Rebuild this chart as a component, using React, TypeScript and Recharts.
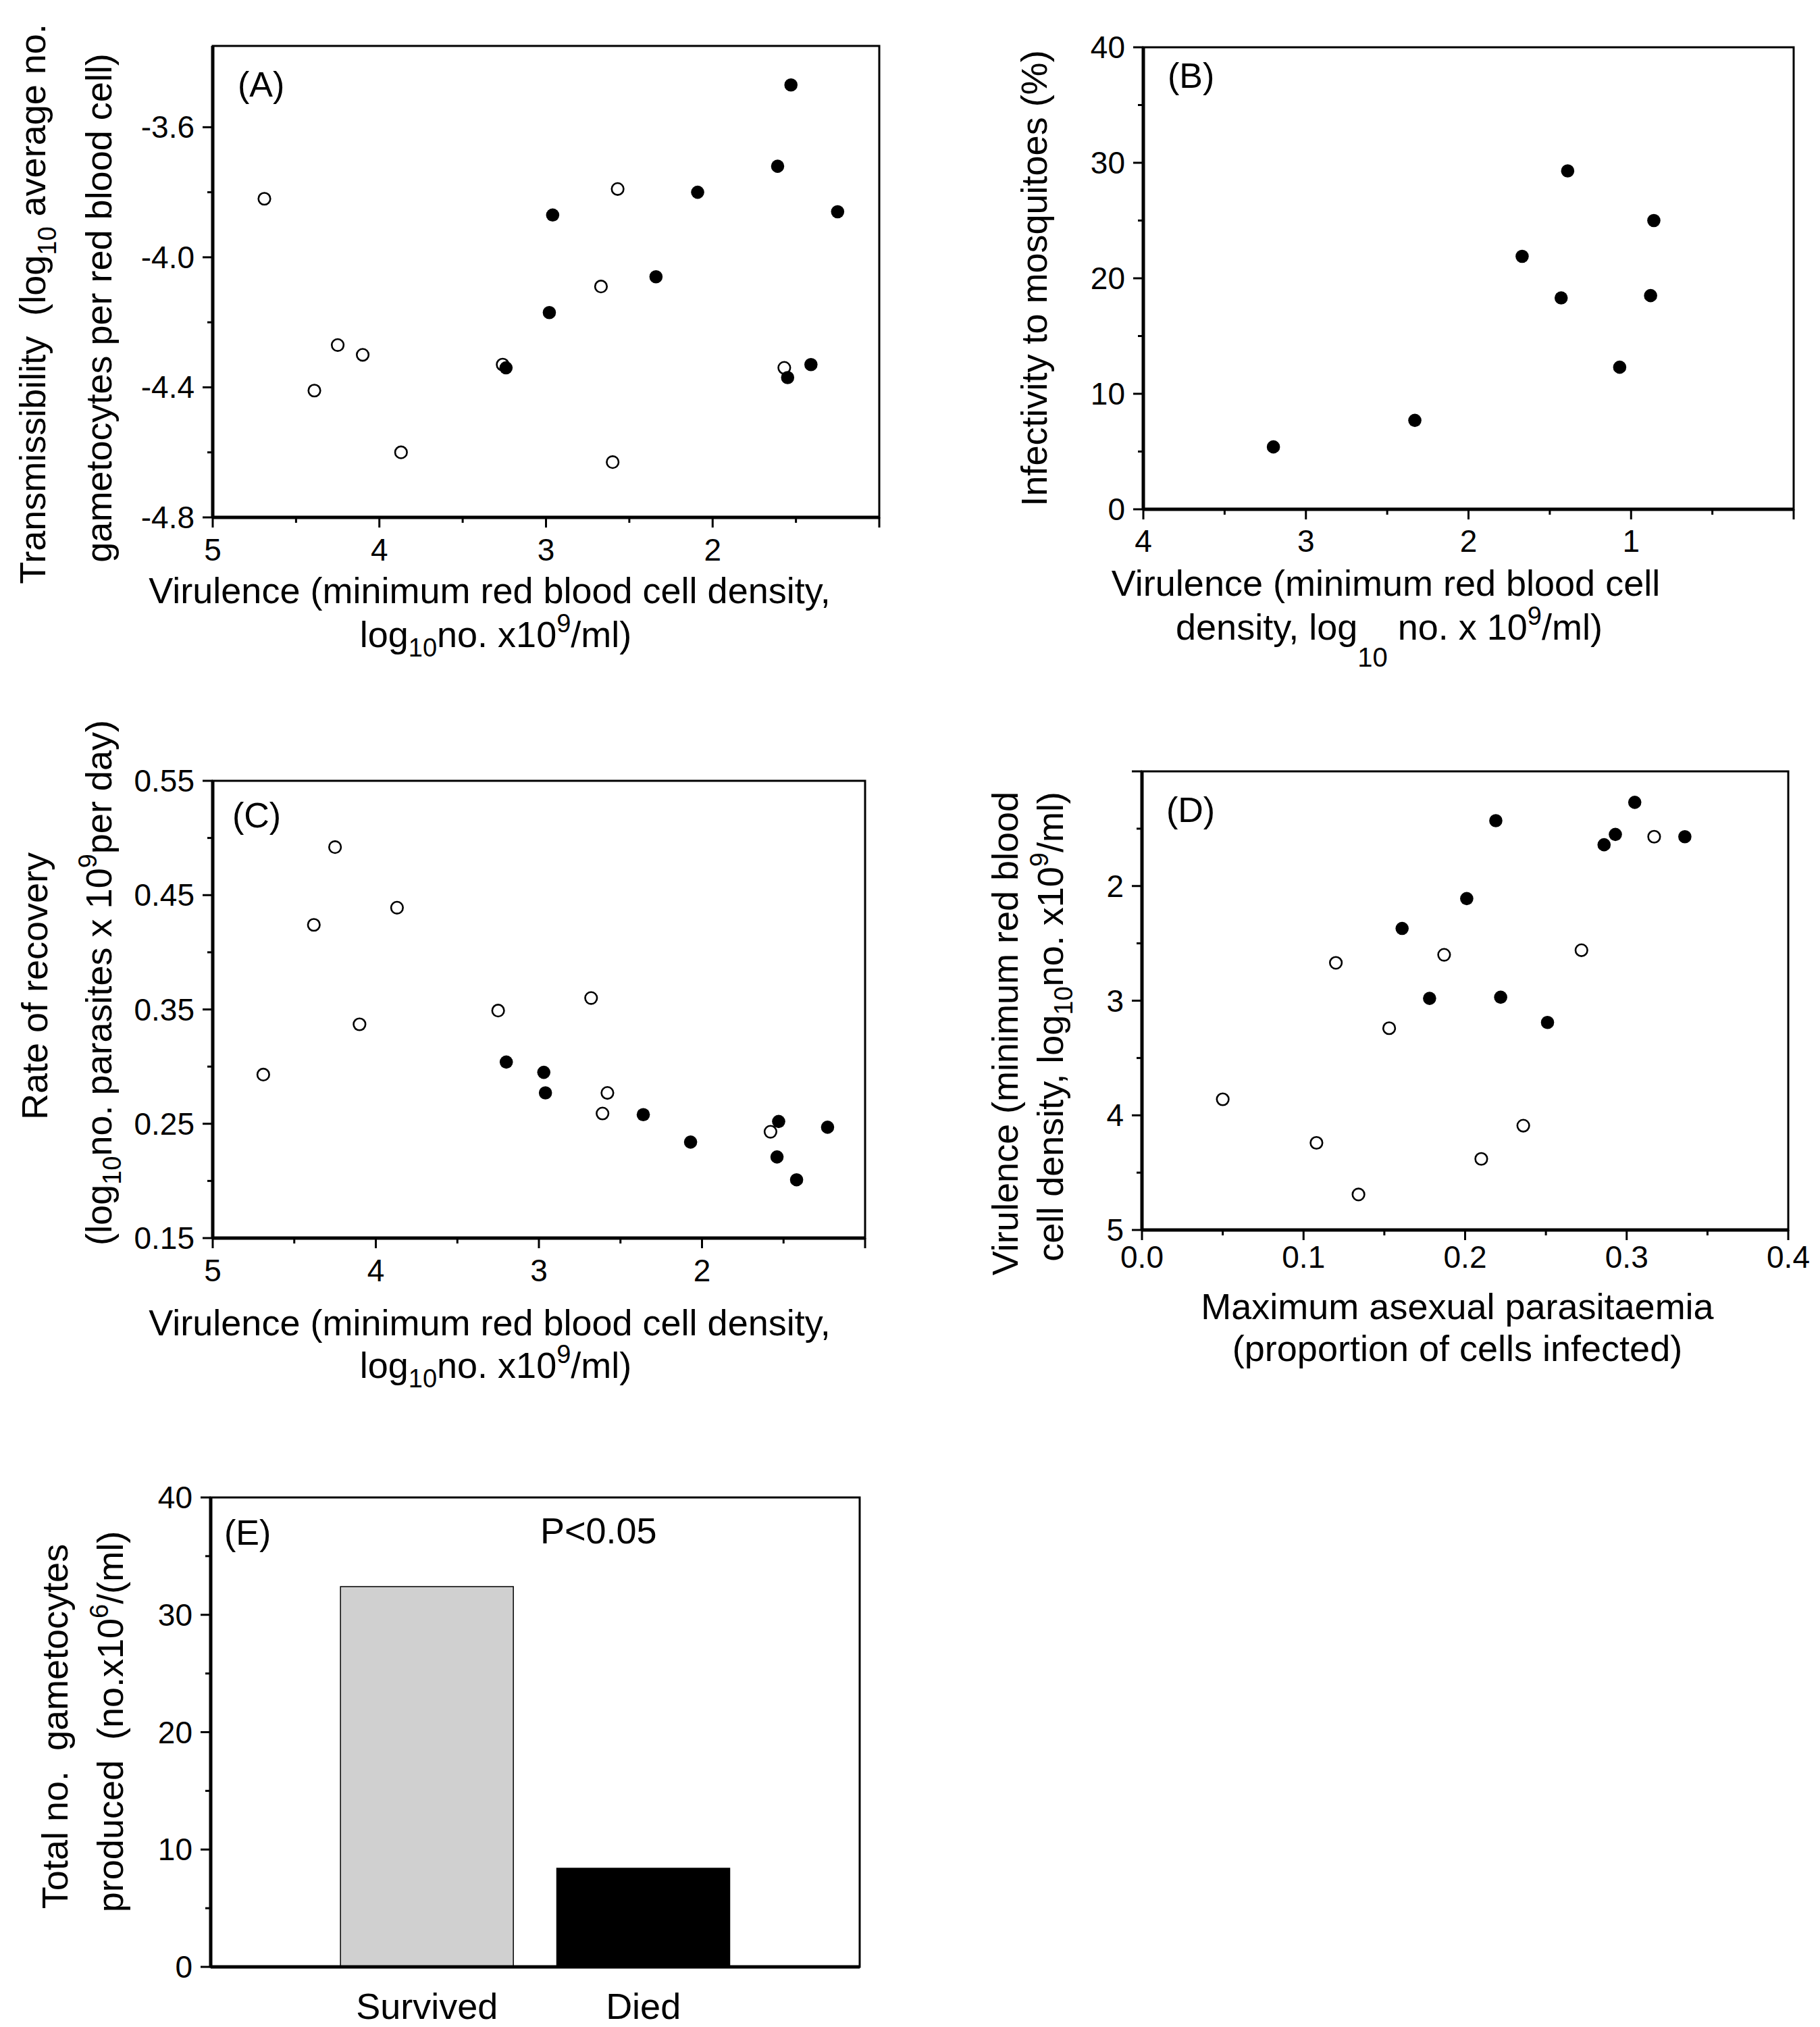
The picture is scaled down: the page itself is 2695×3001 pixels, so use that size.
import React from "react";
import { ScatterChart, Scatter, BarChart, Bar, Cell, XAxis, YAxis, ReferenceArea } from "recharts";

const FONT = "'Liberation Sans', Arial, Helvetica, sans-serif";

// (A) virulence vs transmissibility
const aOpenVirulence = [4.69, 2.57, 2.67, 4.25, 4.1, 4.39, 1.57, 3.26, 3.87, 2.6];
const aOpenTransmiss = [-3.82, -3.79, -4.09, -4.27, -4.3, -4.41, -4.34, -4.33, -4.6, -4.63];
const aSolidVirulence = [1.53, 1.61, 2.09, 2.96, 1.25, 2.34, 2.98, 3.24, 1.41, 1.55];
const aSolidTransmiss = [-3.47, -3.72, -3.8, -3.87, -3.86, -4.06, -4.17, -4.34, -4.33, -4.37];

// (B) virulence vs infectivity to mosquitoes
const bVirulence = [1.39, 0.86, 1.67, 1.43, 0.88, 1.07, 2.33, 3.2];
const bInfectivity = [29.3, 25.0, 21.9, 18.3, 18.5, 12.3, 7.7, 5.4];

// (C) virulence vs rate of recovery
const cOpenVirulence = [4.25, 4.38, 3.87, 4.1, 3.25, 2.68, 4.69, 2.58, 2.61, 1.58];
const cOpenRecovery = [0.492, 0.424, 0.439, 0.337, 0.349, 0.36, 0.293, 0.277, 0.259, 0.243];
const cSolidVirulence = [3.2, 2.97, 2.96, 2.36, 2.07, 1.53, 1.54, 1.42, 1.23];
const cSolidRecovery = [0.304, 0.295, 0.277, 0.258, 0.234, 0.252, 0.221, 0.201, 0.247];

// (D) parasitaemia vs virulence
const dSolidParasitaemia = [0.305, 0.219, 0.293, 0.336, 0.286, 0.201, 0.161, 0.178, 0.222, 0.251];
const dSolidVirulence = [1.27, 1.43, 1.55, 1.57, 1.64, 2.11, 2.37, 2.98, 2.97, 3.19];
const dOpenParasitaemia = [0.317, 0.272, 0.187, 0.12, 0.153, 0.05, 0.108, 0.236, 0.21, 0.134];
const dOpenVirulence = [1.57, 2.56, 2.6, 2.67, 3.24, 3.86, 4.24, 4.09, 4.38, 4.69];

// (E) gametocytes by outcome
const eGroups = ["Survived", "Died"];
const eGametocytes = [32.4, 8.4];
const eColors = ["#d0d0d0", "#000000"];

// ticks
const virTicks = [5, 4.5, 4, 3.5, 3, 2.5, 2, 1.5, 1];
const aYTicks = [-4.8, -4.6, -4.4, -4.2, -4.0, -3.8, -3.6];
const bXTicks = [4, 3.5, 3, 2.5, 2, 1.5, 1, 0.5, 0];
const pctTicks = [0, 5, 10, 15, 20, 25, 30, 35, 40];
const cYTicks = [0.15, 0.2, 0.25, 0.3, 0.35, 0.4, 0.45, 0.5, 0.55];
const dXTicks = [0, 0.05, 0.1, 0.15, 0.2, 0.25, 0.3, 0.35, 0.4];
const dYTicks = [1, 1.5, 2, 2.5, 3, 3.5, 4, 4.5, 5];

type Pt = { x: number; y: number };
type Plot = { l: number; t: number; r: number; b: number };
const zip = (xs: number[], ys: number[]): Pt[] => xs.map((x, i) => ({ x, y: ys[i] }));
const near = (list: number[], v: number) => list.some((m) => Math.abs(m - v) < 1e-6);

const YW = 100;
const XH = 80;
const PADL = 200;
const PADT = 40;
const PADR = 60;
const PADB = 130;

const xTick = (majors: number[], labeled: number[], fmt: (v: number) => string, off = 64) => (p: any) => {
  const v = Number(p.payload.value);
  const len = near(majors, v) ? 15 : 8;
  return (
    <g>
      <line x1={p.x} x2={p.x} y1={p.y} y2={p.y + len} stroke="#000" strokeWidth={3} />
      {near(labeled, v) && (
        <text x={p.x} y={p.y + off} textAnchor="middle" fontSize={46} fontFamily={FONT} fill="#000">
          {fmt(v)}
        </text>
      )}
    </g>
  );
};

const yTick = (majors: number[], labeled: number[], fmt: (v: number) => string) => (p: any) => {
  const v = Number(p.payload.value);
  const len = near(majors, v) ? 15 : 8;
  return (
    <g>
      <line x1={p.x - len} x2={p.x} y1={p.y} y2={p.y} stroke="#000" strokeWidth={3} />
      {near(labeled, v) && (
        <text x={p.x - 27} y={p.y + 16} textAnchor="end" fontSize={46} fontFamily={FONT} fill="#000">
          {fmt(v)}
        </text>
      )}
    </g>
  );
};

const solidDot = (p: any) => <circle cx={p.cx} cy={p.cy} r={9.8} fill="#000" />;
const openDot = (p: any) => <circle cx={p.cx} cy={p.cy} r={8.8} fill="#fff" stroke="#000" strokeWidth={2.6} />;

const boxStyle = (plot: Plot): React.CSSProperties => ({
  position: "absolute",
  left: plot.l - PADL,
  top: plot.t - PADT,
});
const chartSize = (plot: Plot) => ({
  width: plot.r - plot.l + PADL + PADR,
  height: plot.b - plot.t + PADT + PADB,
  margin: { top: PADT, right: PADR, left: PADL - YW, bottom: PADB - XH },
});

const axisLine = { stroke: "#000", strokeWidth: 5 };

function ScatterPanel(props: {
  plot: Plot;
  xDomain: [number, number];
  yDomain: [number, number];
  xReversed?: boolean;
  yReversed?: boolean;
  xTicks: number[];
  yTicks: number[];
  xTickFn: any;
  yTickFn: any;
  open?: Pt[];
  solid: Pt[];
}) {
  const { plot } = props;
  return (
    <div style={boxStyle(plot)}>
      <ScatterChart {...chartSize(plot)}>
        <XAxis
          type="number"
          dataKey="x"
          domain={props.xDomain}
          reversed={props.xReversed}
          allowDataOverflow
          ticks={props.xTicks}
          interval={0}
          tickSize={0}
          tickMargin={0}
          tickLine={false}
          axisLine={axisLine}
          tick={props.xTickFn}
          height={XH}
        />
        <YAxis
          type="number"
          dataKey="y"
          domain={props.yDomain}
          reversed={props.yReversed}
          allowDataOverflow
          ticks={props.yTicks}
          interval={0}
          tickSize={0}
          tickMargin={0}
          tickLine={false}
          axisLine={axisLine}
          tick={props.yTickFn}
          width={YW}
        />
        <ReferenceArea
          x1={props.xDomain[0]}
          x2={props.xDomain[1]}
          y1={props.yDomain[0]}
          y2={props.yDomain[1]}
          fill="none"
          stroke="#000"
          strokeWidth={3}
          ifOverflow="visible"
        />
        {props.open && <Scatter data={props.open} shape={openDot} isAnimationActive={false} />}
        <Scatter data={props.solid} shape={solidDot} isAnimationActive={false} />
      </ScatterChart>
    </div>
  );
}

const plotA: Plot = { l: 315, t: 68, r: 1302, b: 766 };
const plotB: Plot = { l: 1693, t: 70, r: 2656, b: 754 };
const plotC: Plot = { l: 315, t: 1156, r: 1281, b: 1833 };
const plotD: Plot = { l: 1691, t: 1142, r: 2648, b: 1821 };
const plotE: Plot = { l: 312, t: 2217, r: 1273, b: 2912 };

const T = (p: { x: number; y: number; rot?: boolean; size?: number; anchor?: string; children: React.ReactNode }) => (
  <text
    x={p.x}
    y={p.y}
    fontSize={p.size ?? 54}
    fontFamily={FONT}
    fill="#000"
    textAnchor={(p.anchor ?? "middle") as any}
    xmlSpace="preserve"
    style={{ whiteSpace: "pre" }}
    transform={p.rot ? `rotate(-90 ${p.x} ${p.y})` : undefined}
  >
    {p.children}
  </text>
);

function Titles() {
  return (
    <svg width={2695} height={3001} style={{ position: "absolute", left: 0, top: 0, pointerEvents: "none" }}>
      {/* A */}
      <T x={67} y={450} rot>
        Transmissibility  (log<tspan dy={16} fontSize={38}>10</tspan>
        <tspan dy={-16}> average no.</tspan>
      </T>
      <T x={165} y={456} rot>gametocytes per red blood cell)</T>
      <T x={725} y={893}>Virulence (minimum red blood cell density,</T>
      <T x={734} y={958}>
        log<tspan dy={14} fontSize={38}>10</tspan>
        <tspan dy={-14}>no. x10</tspan>
        <tspan dy={-22} fontSize={38}>9</tspan>
        <tspan dy={22}>/ml)</tspan>
      </T>
      <T x={352} y={143} size={52} anchor="start">(A)</T>

      {/* B */}
      <T x={1550} y={412} rot>Infectivity to mosquitoes (%)</T>
      <T x={2052} y={882}>Virulence (minimum red blood cell</T>
      <T x={2057} y={947}>
        density, log<tspan dy={40} fontSize={40}>10</tspan>
        <tspan dy={-40}> no. x 10</tspan>
        <tspan dy={-22} fontSize={38}>9</tspan>
        <tspan dy={22}>/ml)</tspan>
      </T>
      <T x={1729} y={130} size={52} anchor="start">(B)</T>

      {/* C */}
      <T x={70} y={1460} rot>Rate of recovery</T>
      <T x={165} y={1455} rot>
        (log<tspan dy={14} fontSize={38}>10</tspan>
        <tspan dy={-14}>no. parasites x 10</tspan>
        <tspan dy={-22} fontSize={38}>9</tspan>
        <tspan dy={22}>per day)</tspan>
      </T>
      <T x={725} y={1977}>Virulence (minimum red blood cell density,</T>
      <T x={734} y={2040}>
        log<tspan dy={14} fontSize={38}>10</tspan>
        <tspan dy={-14}>no. x10</tspan>
        <tspan dy={-22} fontSize={38}>9</tspan>
        <tspan dy={22}>/ml)</tspan>
      </T>
      <T x={344} y={1225} size={52} anchor="start">(C)</T>

      {/* D */}
      <T x={1507} y={1530} rot>Virulence (minimum red blood</T>
      <T x={1574} y={1520} rot>
        cell density, log<tspan dy={14} fontSize={38}>10</tspan>
        <tspan dy={-14}>no. x10</tspan>
        <tspan dy={-22} fontSize={38}>9</tspan>
        <tspan dy={22}>/ml)</tspan>
      </T>
      <T x={2158} y={1953}>Maximum asexual parasitaemia</T>
      <T x={2158} y={2015}>(proportion of cells infected)</T>
      <T x={1727} y={1217} size={52} anchor="start">(D)</T>

      {/* E */}
      <T x={100} y={2556} rot>Total no.  gametocytes</T>
      <T x={182} y={2549} rot>
        produced  (no.x10<tspan dy={-22} fontSize={38}>6</tspan>
        <tspan dy={22}>/(ml)</tspan>
      </T>
      <T x={332} y={2287} size={52} anchor="start">(E)</T>
      <T x={800} y={2285} anchor="start">P&lt;0.05</T>
    </svg>
  );
}

const eData = eGroups.map((g, i) => ({ pos: i + 1, group: g, value: eGametocytes[i] }));

function PanelE() {
  const tickE = (p: any) => {
    const v = Number(p.payload.value);
    const label = eGroups[v - 1];
    return label ? (
      <text x={p.x} y={p.y + 77} textAnchor="middle" fontSize={54} fontFamily={FONT} fill="#000">
        {label}
      </text>
    ) : (
      <g />
    );
  };
  return (
    <div style={boxStyle(plotE)}>
      <BarChart {...chartSize(plotE)} data={eData}>
        <XAxis
          type="number"
          dataKey="pos"
          domain={[0, 3]}
          allowDataOverflow
          ticks={[1, 2]}
          interval={0}
          tickSize={0}
          tickMargin={0}
          tickLine={false}
          axisLine={axisLine}
          tick={tickE}
          height={XH}
        />
        <YAxis
          type="number"
          domain={[0, 40]}
          allowDataOverflow
          ticks={pctTicks}
          interval={0}
          tickSize={0}
          tickMargin={0}
          tickLine={false}
          axisLine={axisLine}
          tick={yTick([0, 10, 20, 30, 40], [0, 10, 20, 30, 40], (v) => String(v))}
          width={YW}
        />
        <ReferenceArea x1={0} x2={3} y1={0} y2={40} fill="none" stroke="#000" strokeWidth={3} ifOverflow="visible" />
        <Bar dataKey="value" barSize={256} isAnimationActive={false} stroke="#000" strokeWidth={1.5}>
          {eData.map((d, i) => (
            <Cell key={d.group} fill={eColors[i]} />
          ))}
        </Bar>
      </BarChart>
    </div>
  );
}

export default function App() {
  return (
    <div
      style={{
        position: "absolute",
        left: 0,
        top: 0,
        width: 2695,
        height: 3001,
        background: "#fff",
        overflow: "hidden",
      }}
    >
      <ScatterPanel
        plot={plotA}
        xDomain={[1, 5]}
        yDomain={[-4.8, -3.35]}
        xReversed
        xTicks={virTicks}
        yTicks={aYTicks}
        xTickFn={xTick([5, 4, 3, 2, 1], [5, 4, 3, 2], (v) => String(v))}
        yTickFn={yTick([-4.8, -4.4, -4.0, -3.6], [-4.8, -4.4, -4.0, -3.6], (v) => v.toFixed(1))}
        open={zip(aOpenVirulence, aOpenTransmiss)}
        solid={zip(aSolidVirulence, aSolidTransmiss)}
      />
      <ScatterPanel
        plot={plotB}
        xDomain={[0, 4]}
        yDomain={[0, 40]}
        xReversed
        xTicks={bXTicks}
        yTicks={pctTicks}
        xTickFn={xTick([4, 3, 2, 1, 0], [4, 3, 2, 1], (v) => String(v), 63)}
        yTickFn={yTick([0, 10, 20, 30, 40], [0, 10, 20, 30, 40], (v) => String(v))}
        solid={zip(bVirulence, bInfectivity)}
      />
      <ScatterPanel
        plot={plotC}
        xDomain={[1, 5]}
        yDomain={[0.15, 0.55]}
        xReversed
        xTicks={virTicks}
        yTicks={cYTicks}
        xTickFn={xTick([5, 4, 3, 2, 1], [5, 4, 3, 2], (v) => String(v))}
        yTickFn={yTick([0.15, 0.25, 0.35, 0.45, 0.55], [0.15, 0.25, 0.35, 0.45, 0.55], (v) => v.toFixed(2))}
        open={zip(cOpenVirulence, cOpenRecovery)}
        solid={zip(cSolidVirulence, cSolidRecovery)}
      />
      <ScatterPanel
        plot={plotD}
        xDomain={[0, 0.4]}
        yDomain={[1, 5]}
        yReversed
        xTicks={dXTicks}
        yTicks={dYTicks}
        xTickFn={xTick([0, 0.1, 0.2, 0.3, 0.4], [0, 0.1, 0.2, 0.3, 0.4], (v) => v.toFixed(1), 56)}
        yTickFn={yTick([1, 2, 3, 4, 5], [2, 3, 4, 5], (v) => String(v))}
        open={zip(dOpenParasitaemia, dOpenVirulence)}
        solid={zip(dSolidParasitaemia, dSolidVirulence)}
      />
      <PanelE />
      <Titles />
    </div>
  );
}
